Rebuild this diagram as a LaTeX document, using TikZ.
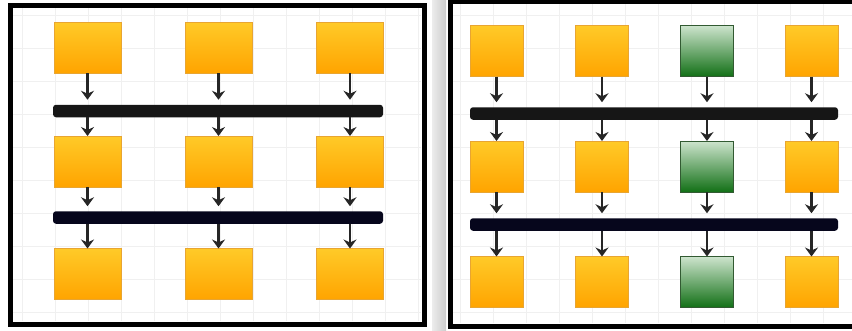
\documentclass[tikz,border=0pt]{standalone}
\usetikzlibrary{arrows.meta}
\definecolor{ambertop}{RGB}{255,202,40}
\definecolor{amberbot}{RGB}{255,164,0}
\definecolor{amberedge}{RGB}{232,165,50}
\definecolor{greentop}{RGB}{205,228,205}
\definecolor{greenbot}{RGB}{18,112,22}
\definecolor{greenedge}{RGB}{50,90,50}
\definecolor{barblack}{RGB}{22,22,22}
\definecolor{barnavy}{RGB}{6,6,28}
\definecolor{gridline}{RGB}{240,240,240}
\tikzset{
  ambox/.style={draw=amberedge, line width=0.6pt, top color=ambertop, bottom color=amberbot,
                minimum width=#1, minimum height=51pt, inner sep=0pt, outer sep=0pt},
  grbox/.style={draw=greenedge, line width=0.8pt, top color=greentop, bottom color=greenbot,
                minimum width=#1, minimum height=51pt, inner sep=0pt, outer sep=0pt},
  busbar/.style={fill=#1, rounded corners=3pt, minimum height=12.5pt, inner sep=0pt, outer sep=0pt},
  flow/.style={draw=black!85, line width=2.4pt, -{Stealth[length=9pt,width=13pt,inset=3pt]}},
  tobus/.style={flow, shorten >=5pt},
  frame/.style={draw=black, line width=5pt},
}
\begin{document}
\begin{tikzpicture}[x=1pt, y=-1pt]
\useasboundingbox (0,0) rectangle (852,330);
\fill[white] (0,0) rectangle (852,330);

% faint background grids
\begin{scope}
  \clip (13,8) rectangle (421,321);
  \foreach \gx in {22,55,...,421} \draw[gridline, line width=0.5pt] (\gx,8) -- (\gx,321);
  \foreach \gy in {15,48,...,321} \draw[gridline, line width=0.5pt] (13,\gy) -- (421,\gy);
\end{scope}
\begin{scope}
  \clip (453,4) rectangle (852,323);
  \foreach \gx in {460,493,...,852} \draw[gridline, line width=0.5pt] (\gx,4) -- (\gx,323);
  \foreach \gy in {15,48,...,323} \draw[gridline, line width=0.5pt] (453,\gy) -- (852,\gy);
\end{scope}

% shadow between the two panels
\fill[left color=gray!15, right color=gray!40] (432,0) rectangle (446,330);

% panel frames
\draw[frame] (10.5,5.5) rectangle (424,324);
\draw[frame] (450.5,1) rectangle (860,326);

% ---------- left panel: three columns ----------
\foreach \c/\x in {1/87.5, 2/218.5, 3/350} {
  \node[ambox=67pt] (La\c) at (\x,47.5) {};
  \node[ambox=67pt] (Lb\c) at (\x,161.5) {};
  \node[ambox=67pt] (Lc\c) at (\x,274) {};
}
\node[busbar=barblack, minimum width=330pt] (Lbus1) at (218,111) {};
\node[busbar=barnavy, minimum width=330pt] (Lbus2) at (218,217.5) {};
\foreach \c in {1,2,3} {
  \draw[tobus] (La\c.south) -- (La\c.south |- Lbus1.north);
  \draw[flow] (La\c.south |- Lbus1.south) -- (Lb\c.north);
  \draw[tobus] (Lb\c.south) -- (Lb\c.south |- Lbus2.north);
  \draw[flow] (Lb\c.south |- Lbus2.south) -- (Lc\c.north);
}

% ---------- right panel: four columns ----------
\foreach \c/\x in {1/496.5, 2/602, 4/811.5} {
  \node[ambox=53pt] (Ra\c) at (\x,51) {};
  \node[ambox=53pt] (Rb\c) at (\x,166.5) {};
  \node[ambox=53pt] (Rc\c) at (\x,282) {};
}
\node[grbox=53pt] (Ra3) at (707,51) {};
\node[grbox=53pt] (Rb3) at (707,166.5) {};
\node[grbox=53pt] (Rc3) at (707,282) {};
\node[busbar=barblack, minimum width=368pt] (Rbus1) at (654,113.5) {};
\node[busbar=barnavy, minimum width=368pt] (Rbus2) at (654,224.5) {};
\foreach \c in {1,2,3,4} {
  \draw[tobus] (Ra\c.south) -- (Ra\c.south |- Rbus1.north);
  \draw[flow] (Ra\c.south |- Rbus1.south) -- (Rb\c.north);
  \draw[tobus] (Rb\c.south) -- (Rb\c.south |- Rbus2.north);
  \draw[flow] (Rb\c.south |- Rbus2.south) -- (Rc\c.north);
}
\end{tikzpicture}
\end{document}
